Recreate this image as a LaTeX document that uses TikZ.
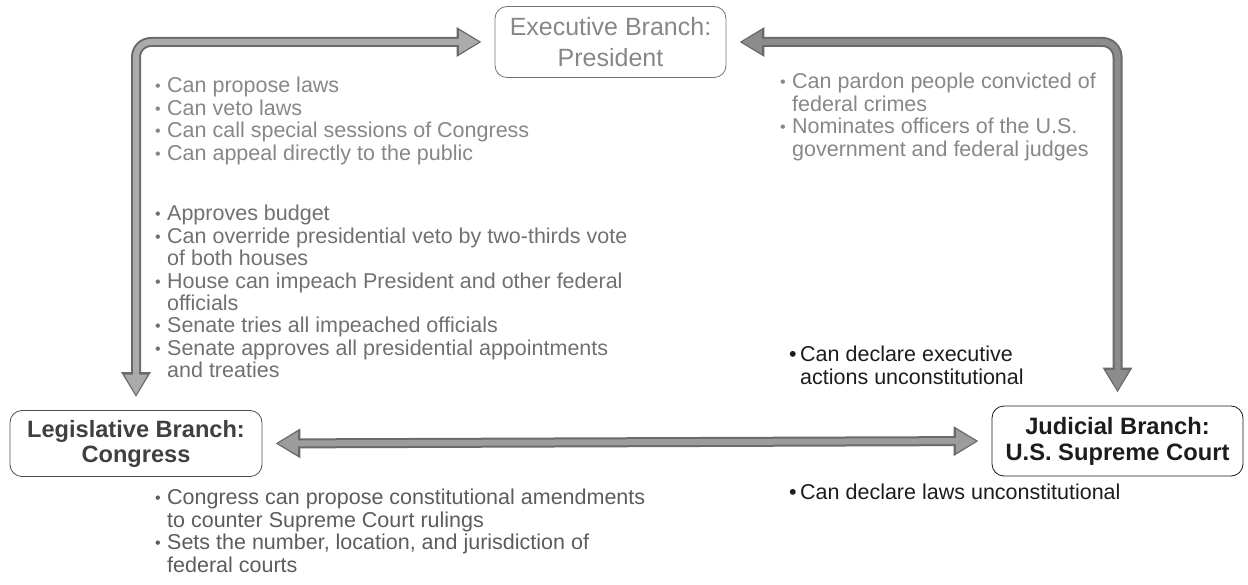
\documentclass[tikz,border=0pt]{standalone}
\usepackage{fontspec}
\setmainfont{Liberation Sans}
\usetikzlibrary{arrows.meta}

\definecolor{edgegray}{HTML}{6A6A6A}
\definecolor{filllight}{HTML}{ABABAB}
\definecolor{fillmid}{HTML}{9C9C9C}
\definecolor{filldark}{HTML}{8C8C8C}
\definecolor{txtlight}{HTML}{878787}
\definecolor{txtmid}{HTML}{707070}
\definecolor{txtdark}{HTML}{5C5C5C}
\definecolor{txtblack}{HTML}{1C1C1C}

% bullet and hanging indent for the lists
\newcommand{\bul}{\makebox[12pt][l]{\raisebox{1pt}{\scalebox{0.75}{\textbullet}}}}
\newcommand{\blk}{\makebox[11pt][l]{\textbullet}}
\newcommand{\hang}{\hspace*{12pt}}

\begin{document}
\begin{tikzpicture}[x=1pt,y=-1pt,
  branch/.style={draw, rounded corners=12pt, line width=0.8pt, align=center, inner sep=0pt},
  list/.style={anchor=north west, inner sep=0pt, align=left, font=\fontsize{21.5}{22.4}\selectfont},
  % wide arrows: a dark rim drawn first, a lighter core on top
  linkrim/.style={edgegray, line width=10pt, rounded corners=15pt, shorten >=13pt, shorten <=13pt,
    arrows={Triangle[length=25pt,width=28pt]-Triangle[length=25pt,width=28pt]}},
  linkcore/.style={line width=6pt, rounded corners=15pt, shorten >=15.5pt, shorten <=15.5pt,
    arrows={Triangle[length=20pt,width=22pt]-Triangle[length=20pt,width=22pt]}}
]
\useasboundingbox (0,0) rectangle (1248,585);

% the three branches
\node[branch, draw=black!55, text=txtlight, minimum width=231pt, minimum height=71pt,
      font=\fontsize{25}{31}\selectfont] (exec) at (610.5,42) {Executive Branch:\\President};
\node[branch, draw=black!70, text=black!75, minimum width=252pt, minimum height=66pt,
      font=\bfseries\fontsize{23.6}{25}\selectfont] (leg) at (136,443.5) {Legislative Branch:\\Congress};
\node[branch, draw=black!90, text=txtblack, minimum width=251pt, minimum height=70pt,
      font=\bfseries\fontsize{23.7}{26}\selectfont] (jud) at (1117.5,441) {Judicial Branch:\\U.S. Supreme Court};

% checks between the branches
\draw[linkrim] (exec.west) -| (leg.north);
\draw[linkcore, filllight] (exec.west) -| (leg.north);
\draw[linkrim] (exec.east) -| (jud.north);
\draw[linkcore, filldark] (exec.east) -| (jud.north);
\draw[linkrim] (leg.east) -- (jud.west);
\draw[linkcore, fillmid] (leg.east) -- (jud.west);

% powers of the executive over the legislature
\node[list, text=txtlight] (execleg) at (155,77) {\strut\bul Can propose laws\\
\bul Can veto laws\\
\bul Can call special sessions of Congress\\
\bul Can appeal directly to the public};

% powers of the legislature over the executive
\node[list, text=txtmid] (legexec) at (155,205) {\strut\bul Approves budget\\
\bul Can override presidential veto by two-thirds vote\\
\hang of both houses\\
\bul House can impeach President and other federal\\
\hang officials\\
\bul Senate tries all impeached officials\\
\bul Senate approves all presidential appointments\\
\hang and treaties};

% powers of the executive over the courts
\node[list, text=txtlight] (execjud) at (780,73) {\strut\bul Can pardon people convicted of\\
\hang federal crimes\\
\bul Nominates officers of the U.S.\\
\hang government and federal judges};

% powers of the courts over the executive
\node[list, text=txtblack] (judexec) at (789,346) {\strut\blk Can declare executive\\
\hspace*{11pt}actions unconstitutional};

% powers of the courts over the legislature
\node[list, text=txtblack] (judleg) at (789,484) {\strut\blk Can declare laws unconstitutional};

% powers of the legislature over the courts
\node[list, text=txtdark] (legjud) at (155,489) {\strut\bul Congress can propose constitutional amendments\\
\hang to counter Supreme Court rulings\\
\bul Sets the number, location, and jurisdiction of\\
\hang federal courts};
\end{tikzpicture}
\end{document}
